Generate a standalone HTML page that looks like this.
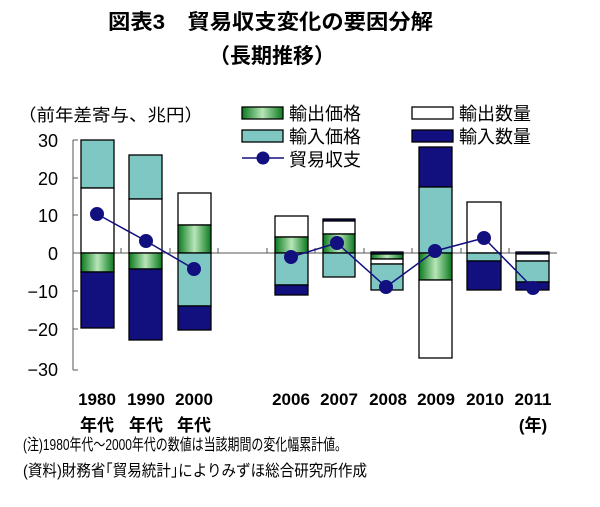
<!DOCTYPE html>
<html><head><meta charset="utf-8"><style>
body{margin:0;background:#fff;}
svg{display:block;}
text{font-family:"Liberation Sans","Noto Sans CJK JP",sans-serif;fill:#000;}
</style></head><body>
<svg width="600" height="507" viewBox="0 0 600 507" xmlns="http://www.w3.org/2000/svg">
<defs>
<linearGradient id="g" x1="0" x2="1" y1="0" y2="0">
<stop offset="0" stop-color="#0a7a1e"/><stop offset="0.5" stop-color="#b8e6b8"/><stop offset="1" stop-color="#0a7a1e"/>
</linearGradient>
</defs>
<text x="108" y="29" font-size="21" font-weight="bold" textLength="325" lengthAdjust="spacingAndGlyphs">図表3　貿易収支変化の要因分解</text>
<text x="272" y="63" font-size="21" font-weight="bold" text-anchor="middle">（長期推移）</text>
<text x="18" y="121" font-size="17" textLength="185" lengthAdjust="spacingAndGlyphs">（前年差寄与、兆円）</text>
<g font-size="18" text-anchor="end">
<text x="58" y="147">30</text><text x="58" y="185">20</text><text x="58" y="222">10</text>
<text x="58" y="260">0</text><text x="58" y="298">−10</text><text x="58" y="336">−20</text><text x="58" y="376">−30</text>
</g>
<g stroke="#555" stroke-width="1">
<line x1="73" y1="140" x2="73" y2="370"/>
<line x1="73" y1="140" x2="78" y2="140"/><line x1="73" y1="178" x2="78" y2="178"/><line x1="73" y1="215" x2="78" y2="215"/>
<line x1="73" y1="291" x2="78" y2="291"/><line x1="73" y1="329" x2="78" y2="329"/><line x1="73" y1="370" x2="78" y2="370"/>
<line x1="73" y1="253" x2="557" y2="253"/>
<line x1="121" y1="248" x2="121" y2="253"/><line x1="170" y1="248" x2="170" y2="253"/><line x1="218" y1="248" x2="218" y2="253"/>
<line x1="267" y1="248" x2="267" y2="253"/><line x1="315" y1="248" x2="315" y2="253"/><line x1="364" y1="248" x2="364" y2="253"/>
<line x1="412" y1="248" x2="412" y2="253"/><line x1="461" y1="248" x2="461" y2="253"/><line x1="509" y1="248" x2="509" y2="253"/>
</g>
<g stroke="#000" stroke-width="1.3">
<rect x="81" y="140" width="33" height="48" fill="#7fc7c2"/>
<rect x="81" y="188" width="33" height="65" fill="#fff"/>
<rect x="81" y="253" width="33" height="19" fill="url(#g)"/>
<rect x="81" y="272" width="33" height="56" fill="#12107f"/>
<rect x="129" y="155" width="33" height="44" fill="#7fc7c2"/>
<rect x="129" y="199" width="33" height="54" fill="#fff"/>
<rect x="129" y="253" width="33" height="16" fill="url(#g)"/>
<rect x="129" y="269" width="33" height="71" fill="#12107f"/>
<rect x="178" y="193" width="33" height="32" fill="#fff"/>
<rect x="178" y="225" width="33" height="28" fill="url(#g)"/>
<rect x="178" y="253" width="33" height="53" fill="#7fc7c2"/>
<rect x="178" y="306" width="33" height="24" fill="#12107f"/>
<rect x="275" y="216" width="33" height="21" fill="#fff"/>
<rect x="275" y="237" width="33" height="16" fill="url(#g)"/>
<rect x="275" y="253" width="33" height="32" fill="#7fc7c2"/>
<rect x="275" y="285" width="33" height="10" fill="#12107f"/>
<rect x="323" y="219" width="32" height="2" fill="#12107f"/>
<rect x="323" y="221" width="32" height="13" fill="#fff"/>
<rect x="323" y="234" width="32" height="19" fill="url(#g)"/>
<rect x="323" y="253" width="32" height="24" fill="#7fc7c2"/>
<rect x="371" y="252" width="32" height="2" fill="#12107f"/>
<rect x="371" y="254" width="32" height="5" fill="url(#g)"/>
<rect x="371" y="259" width="32" height="5" fill="#fff"/>
<rect x="371" y="264" width="32" height="26" fill="#7fc7c2"/>
<rect x="419" y="147" width="33" height="40" fill="#12107f"/>
<rect x="419" y="187" width="33" height="66" fill="#7fc7c2"/>
<rect x="419" y="253" width="33" height="27" fill="url(#g)"/>
<rect x="419" y="280" width="33" height="78" fill="#fff"/>
<rect x="467" y="202" width="34" height="51" fill="#fff"/>
<rect x="467" y="253" width="34" height="8" fill="#7fc7c2"/>
<rect x="467" y="261" width="34" height="29" fill="#12107f"/>
<rect x="516" y="252" width="33" height="2" fill="#12107f"/>
<rect x="516" y="254" width="33" height="7" fill="#fff"/>
<rect x="516" y="261" width="33" height="21" fill="#7fc7c2"/>
<rect x="516" y="282" width="33" height="8" fill="#12107f"/>
</g>
<g fill="#12107f" stroke="#12107f">
<polyline points="97,214 146,241 194,269" fill="none" stroke-width="1.5"/>
<polyline points="291,257 337,243 386,287 435,251 484,238 533,288" fill="none" stroke-width="1.5"/>
<circle cx="97" cy="214" r="6.5"/><circle cx="146" cy="241" r="6.5"/><circle cx="194" cy="269" r="6.5"/>
<circle cx="291" cy="257" r="6.5"/><circle cx="337" cy="243" r="6.5"/><circle cx="386" cy="287" r="6.5"/>
<circle cx="435" cy="251" r="6.5"/><circle cx="484" cy="238" r="6.5"/><circle cx="533" cy="288" r="6.5"/>
</g>
<g stroke="#000" stroke-width="1.3">
<rect x="242" y="107" width="41" height="12" fill="url(#g)"/>
<rect x="242" y="130" width="41" height="12" fill="#7fc7c2"/>
<rect x="412" y="107" width="41" height="12" fill="#fff"/>
<rect x="412" y="130" width="41" height="12" fill="#12107f"/>
</g>
<line x1="242" y1="158" x2="284" y2="158" stroke="#12107f" stroke-width="1.5"/>
<circle cx="263" cy="158" r="6.5" fill="#12107f"/>
<g font-size="18">
<text x="289" y="120">輸出価格</text><text x="289" y="143">輸入価格</text><text x="289" y="166">貿易収支</text>
<text x="459" y="120">輸出数量</text><text x="459" y="143">輸入数量</text>
</g>
<g font-size="17" font-weight="bold" text-anchor="middle">
<text x="97" y="405">1980</text><text x="146" y="405">1990</text><text x="194" y="405">2000</text>
<text x="291" y="405">2006</text><text x="339" y="405">2007</text><text x="388" y="405">2008</text>
<text x="436" y="405">2009</text><text x="485" y="405">2010</text><text x="533" y="405">2011</text>
<text x="97" y="431">年代</text><text x="146" y="431">年代</text><text x="194" y="431">年代</text>
<text x="533" y="431">(年)</text>
</g>
<text x="23" y="450" font-size="16" textLength="324" lengthAdjust="spacingAndGlyphs">(注)1980年代〜2000年代の数値は当該期間の変化幅累計値。</text>
<text x="23" y="476" font-size="16" textLength="344" lengthAdjust="spacingAndGlyphs">(資料)財務省｢貿易統計｣によりみずほ総合研究所作成</text>
</svg>
</body></html>
